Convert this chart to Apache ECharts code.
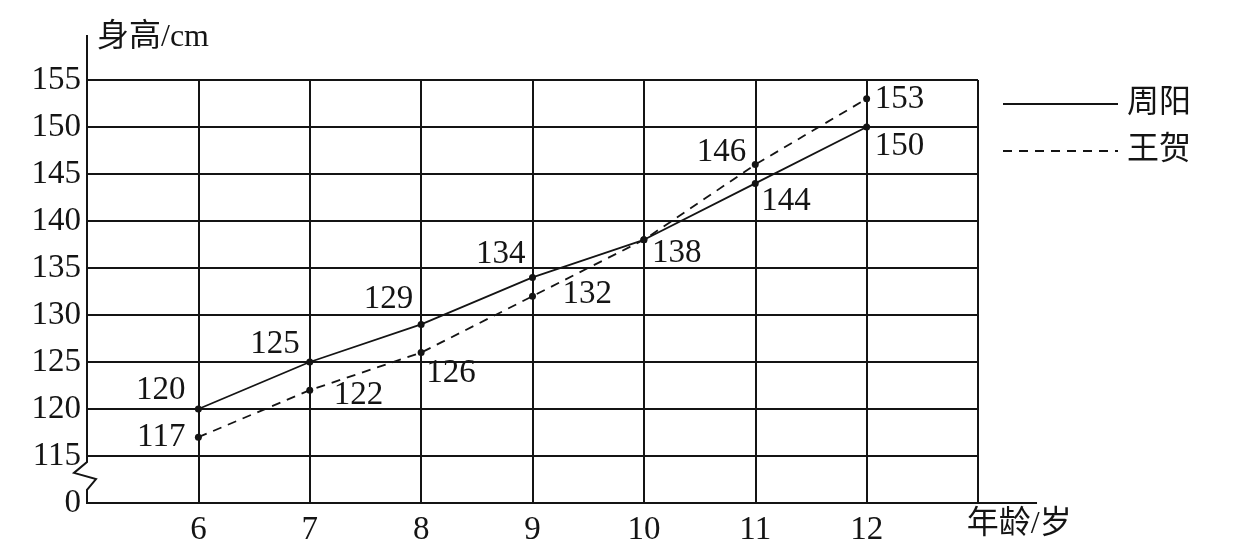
<!DOCTYPE html>
<html><head><meta charset="utf-8">
<script src="https://cdn.jsdelivr.net/npm/echarts@6/dist/echarts.min.js"></script>
<style>html,body{margin:0;padding:0;background:#fff}#c{width:1240px;height:551px}</style>
</head><body><div id="c"></div>
<script>
// ---- data ----
const ages = [6, 7, 8, 9, 10, 11, 12];
const zhouYang = [120, 125, 129, 134, 138, 144, 150];
const wangHe = [117, 122, 126, 132, 138, 146, 153];
// y axis has a break: the bottom tick (drawn at 110 on the scale) is labelled "0"
const yTickValues = [110, 115, 120, 125, 130, 135, 140, 145, 150, 155];
const yTickLabels = ['0', '115', '120', '125', '130', '135', '140', '145', '150', '155'];
const xTickLabels = ['6', '7', '8', '9', '10', '11', '12'];
const seriesNames = ['周阳', '王贺'];
const axisNames = ['身高/cm', '年龄/岁'];

// ---- label placement (style only): [side, edge offset x, centre offset y] ----
const zyPlace = [['left',-13,-19],['left',-10,-18],['left',-8,-25],['left',-7,-23],['right',8,13.5],['right',6,17.5],['right',8,19.5]];
const whPlace = [['left',-13,0],['right',24,5],['right',5,20.5],['right',30,-1.5],null,['left',-9,-12],['right',8,1]];

const INK = '#141414';
const SERIF = "'Liberation Serif','Times New Roman',serif";
const MIXED = "'Liberation Serif','Noto Sans CJK SC',serif";
const SYM = 7;
const FS = 33;

function build(vals, place) {
  return vals.map((v, i) => {
    const p = place[i];
    const item = { value: [ages[i], v] };
    if (!p) item.label = { show: false };
    else item.label = {
      show: true, position: p[0], distance: 0,
      offset: [p[0] === 'left' ? p[1] + SYM / 2 : p[1] - SYM / 2, p[2]]
    };
    return item;
  });
}

const chart = echarts.init(document.getElementById('c'), null, { renderer: 'canvas' });
const labelBase = { color: INK, fontFamily: SERIF, fontSize: FS, formatter: p => String(p.value[1]) };

chart.setOption({
  backgroundColor: '#fff',
  animation: false,
  grid: { left: 87, right: 262, top: 80, bottom: 48, containLabel: false, outerBoundsMode: 'none' },
  xAxis: {
    type: 'value', min: 5, max: 13, interval: 1,
    axisLine: { show: true, lineStyle: { color: INK, width: 2 } },
    axisTick: { show: false },
    axisLabel: {
      color: INK, fontFamily: SERIF, fontSize: FS, margin: 11,
      formatter: v => (v >= 6 && v <= 12) ? xTickLabels[v - 6] : ''
    },
    splitLine: { show: true, lineStyle: { color: INK, width: 2 } }
  },
  yAxis: {
    type: 'value', min: 110, max: 155, interval: 5,
    axisLine: { show: false },
    axisTick: { show: false },
    axisLabel: {
      color: INK, fontFamily: SERIF, fontSize: FS, margin: 6,
      formatter: v => { const k = yTickValues.indexOf(v); return k >= 0 ? yTickLabels[k] : ''; }
    },
    splitLine: { show: true, lineStyle: { color: INK, width: 2 } }
  },
  legend: {
    orient: 'vertical', left: 1002, top: 88, padding: 0,
    itemWidth: 115, itemHeight: 30, itemGap: 15,
    itemStyle: { opacity: 0 },
    textStyle: { color: INK, fontFamily: MIXED, fontSize: 32, padding: [0, 0, 0, 4] },
    data: seriesNames
  },
  series: [
    {
      name: seriesNames[0], type: 'line', data: build(zhouYang, zyPlace),
      symbol: 'circle', symbolSize: SYM,
      itemStyle: { color: INK },
      lineStyle: { color: INK, width: 1.8, type: 'solid' },
      label: labelBase, z: 5
    },
    {
      name: seriesNames[1], type: 'line', data: build(wangHe, whPlace),
      symbol: 'circle', symbolSize: SYM,
      itemStyle: { color: INK },
      lineStyle: { color: INK, width: 1.8, type: [9, 7] },
      label: labelBase, z: 5
    }
  ]
});

// axis decorations computed from the library's own scales
const px = (x, y) => chart.convertToPixel({ gridIndex: 0 }, [x, y]);
const ax = px(5, 110)[0];
const y0 = px(5, 110)[1];
const y115 = px(5, 115)[1];
const y155 = px(5, 155)[1];
const cell = px(6, 110)[0] - ax;
const x13 = px(13, 110)[0];
const gap = y0 - y115;
const yA = y115 + 0.13 * gap, yB = y115 + 0.36 * gap, yC = y115 + 0.49 * gap, yD = y115 + 0.72 * gap;

chart.setOption({
  graphic: [
    { type: 'rect', z: 20, shape: { x: ax - 3, y: yA, width: 6, height: yD - yA }, style: { fill: '#fff' } },
    { type: 'polyline', z: 21,
      shape: { points: [[ax, y155 - 45], [ax, yA], [ax - 13, yB], [ax + 9, yC], [ax, yD], [ax, y0 + 1]] },
      style: { stroke: INK, lineWidth: 2, fill: null } },
    { type: 'line', z: 21, shape: { x1: x13, y1: y0, x2: x13 + 0.53 * cell, y2: y0 }, style: { stroke: INK, lineWidth: 2 } },
    { type: 'text', z: 21, x: ax + 10, y: y155 - 42, style: { text: axisNames[0], fill: INK, font: '32px ' + MIXED, verticalAlign: 'middle' } },
    { type: 'text', z: 21, x: x13 + 0.37 * cell, y: y0 + 22, style: { text: axisNames[1], fill: INK, font: '32px ' + MIXED, align: 'center', verticalAlign: 'middle' } }
  ]
});
</script>
</body></html>
